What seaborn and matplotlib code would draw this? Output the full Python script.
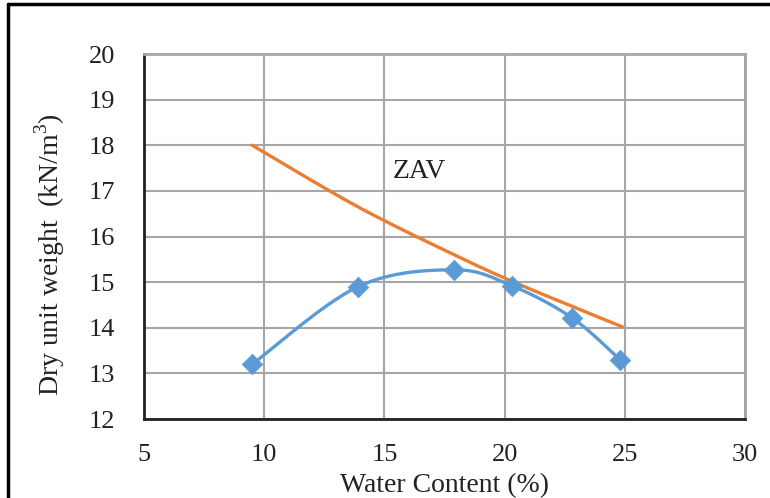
import numpy as np
import pandas as pd
import matplotlib
matplotlib.use("Agg")
import matplotlib.pyplot as plt
import seaborn as sns
from matplotlib.lines import Line2D

# ---- data ----
water_content = [9.5, 13.9, 17.9, 20.3, 22.8, 24.8]
dry_unit_weight = [13.2, 14.9, 15.27, 14.92, 14.22, 13.3]
zav_water = [9.5, 13.9, 17.9, 20.3, 22.8, 24.9]
zav_weight = [18.0, 16.65, 15.6, 15.02, 14.47, 14.02]
x_ticks = [5, 10, 15, 20, 25, 30]
y_ticks = [12, 13, 14, 15, 16, 17, 18, 19, 20]
zav_label = "ZAV"
x_label = "Water Content (%)"
y_label = "Dry unit weight  (kN/m$^3$)"

BLUE = "#5B9BD5"
ORANGE = "#ED7D31"


def smooth(xs, ys, n=30):
    """Excel-style smoothed line (Catmull-Rom) through the given points."""
    P = np.column_stack([xs, ys]).astype(float)
    P = np.vstack([P[0], P, P[-1]])
    out = []
    for i in range(1, len(P) - 2):
        p0, p1, p2, p3 = P[i - 1], P[i], P[i + 1], P[i + 2]
        t = np.linspace(0, 1, n, endpoint=False)[:, None]
        pts = 0.5 * ((2 * p1) + (-p0 + p2) * t + (2 * p0 - 5 * p1 + 4 * p2 - p3) * t ** 2
                     + (-p0 + 3 * p1 - 3 * p2 + p3) * t ** 3)
        out.append(pts)
    out.append(P[-2][None, :])
    a = np.vstack(out)
    return a[:, 0], a[:, 1]


sns.set_theme(style="white")
plt.rcParams["font.family"] = ["Liberation Serif", "DejaVu Serif"]
plt.rcParams["mathtext.fontset"] = "custom"
plt.rcParams["mathtext.rm"] = "Liberation Serif"

fig = plt.figure(figsize=(7.7, 4.98), dpi=100)
ax = fig.add_axes([144 / 770, 1 - 419 / 498, (745 - 144) / 770, (419 - 54) / 498])

bx, by = smooth(water_content, dry_unit_weight)
df_blue = pd.DataFrame({"x": bx, "y": by})
zx, zy = smooth(zav_water, zav_weight)
df_zav = pd.DataFrame({"x": zx, "y": zy})
df_pts = pd.DataFrame({"x": water_content, "y": dry_unit_weight})

sns.lineplot(data=df_zav, x="x", y="y", sort=False, color=ORANGE, lw=2.4, ax=ax, zorder=3)
sns.lineplot(data=df_blue, x="x", y="y", sort=False, color=BLUE, lw=2.4, ax=ax, zorder=4)
sns.scatterplot(data=df_pts, x="x", y="y", marker="D", s=110, color=BLUE,
                edgecolor=BLUE, linewidth=0.5, ax=ax, zorder=5)

ax.set_xlim(5, 30)
ax.set_ylim(12, 20)
ax.set_xticks(x_ticks)
ax.set_yticks(y_ticks)
ax.set_xticklabels([str(t) for t in x_ticks], fontsize=19, color="#222222")
ax.set_yticklabels([str(t) for t in y_ticks], fontsize=19, color="#222222")
ax.tick_params(axis="both", length=0)
ax.tick_params(axis="x", pad=18)
ax.tick_params(axis="y", pad=21)

ax.grid(True, color="#a6a6a6", lw=1.5)
ax.set_axisbelow(True)
for s in ["top", "right"]:
    ax.spines[s].set_color("#a6a6a6")
    ax.spines[s].set_linewidth(2)
for s in ["left", "bottom"]:
    ax.spines[s].set_color("#222222")
    ax.spines[s].set_linewidth(2)

ax.set_xlabel(x_label, fontsize=20, color="#222222", labelpad=5)
ax.set_ylabel(y_label, fontsize=20, color="#222222")
ax.yaxis.set_label_coords(-0.128, 0.45)

ax.text(15.35, 17.43, zav_label, fontsize=20, color="#222222", va="center", ha="left")

# partial outer frame (top and left edges as in the reference crop)
fig.add_artist(Line2D([8 / 770, 1], [1 - 4 / 498, 1 - 4 / 498], color="black", lw=2.5,
                      transform=fig.transFigure))
fig.add_artist(Line2D([8 / 770, 8 / 770], [0, 1 - 4 / 498], color="black", lw=2.5,
                      transform=fig.transFigure))

fig.savefig("out.png", dpi=100, facecolor="white")
